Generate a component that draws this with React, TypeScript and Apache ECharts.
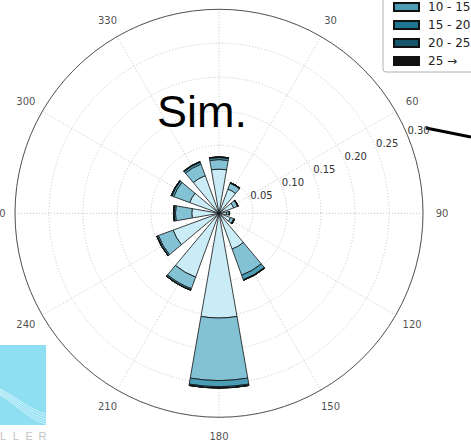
import React, { useEffect, useRef } from 'react';
import * as echarts from 'echarts';

// Wind directions (degrees, clockwise from north), one sector every 30°
const directions = ['0', '30', '60', '90', '120', '150', '180', '210', '240', '270', '300', '330'];

// Compass labels around the rim
const compassLabels = [0, 30, 60, 90, 120, 150, 180, 210, 240, 270, 300, 330];

// Speed bins shown in the legend
const speedBins = ['0 - 5', '5 - 10', '10 - 15', '15 - 20', '20 - 25', '25 →'];
const binColors = ['#c9ecf6', '#82c2d4', '#4a9db4', '#1d7791', '#17566a', '#111111'];

// Relative frequency per direction for each speed bin
const freq0to5 = [0.065, 0.038, 0.023, 0.011, 0.018, 0.056, 0.154, 0.100, 0.072, 0.040, 0.046, 0.059];
const freq5to10 = [0.014, 0.009, 0.006, 0.004, 0.005, 0.041, 0.092, 0.018, 0.023, 0.024, 0.025, 0.018];
const freq10to15 = [0.003, 0.001, 0.001, 0.0005, 0.001, 0.007, 0.009, 0.002, 0.002, 0.002, 0.003, 0.003];
const freq15to20 = [0.001, 0, 0, 0, 0.0005, 0.001, 0.002, 0.0005, 0.0005, 0.001, 0.001, 0.001];
const freq20to25 = [0, 0, 0, 0, 0, 0, 0, 0, 0, 0, 0, 0];
const freq25up = [0, 0, 0, 0, 0, 0, 0, 0, 0, 0, 0, 0];

const binData = [freq0to5, freq5to10, freq10to15, freq15to20, freq20to25, freq25up];

// Radial scale (frequency)
const radiusMax = 0.3;
const radiusStep = 0.05;

const CENTER: [number, number] = [219, 213.3];
const RADIUS = 204;

export default function App() {
  const ref = useRef<HTMLDivElement>(null);

  useEffect(() => {
    if (!ref.current) return;
    const chart = echarts.init(ref.current, null, { renderer: 'svg' });

    const dotted = { color: '#b5b5b5', type: [1, 2] as number[], width: 0.8 };
    const tickFont = { fontSize: 10, color: '#333', fontFamily: 'DejaVu Sans' };

    const fanLines = [0, 1, 2, 3, 4].map((i) => ({
      type: 'bezierCurve',
      shape: {
        x1: 0, y1: 389 + i * 1.5,
        cpx1: 18, cpy1: 398 + i * 2,
        cpx2: 30, cpy2: 410 + i * 2.5,
        x2: 46, y2: 414 + i * 2.5,
      },
      style: { stroke: '#ffffff', lineWidth: 0.6, fill: null },
    }));

    const brandLetters = ['L', 'L', 'E', 'R'].map((ch, i) => ({
      type: 'text',
      x: 0 + i * 12.8,
      y: 430,
      style: { text: ch, fontSize: 11, fontFamily: 'Liberation Sans', fill: '#c4c4c4' },
    }));

    chart.setOption({
      animation: false,
      backgroundColor: '#ffffff',
      title: {
        text: 'Sim.',
        left: 152,
        top: 84,
        textStyle: { fontSize: 45, fontWeight: 'normal', fontFamily: 'Liberation Sans', color: '#000' },
      },
      legend: {
        data: speedBins,
        orient: 'vertical',
        left: 383,
        top: -42,
        padding: [7, 10, 5, 10],
        itemGap: 6,
        itemWidth: 25,
        itemHeight: 8,
        icon: 'rect',
        borderColor: '#b0b0b0',
        borderWidth: 1,
        borderRadius: 3,
        backgroundColor: '#fff',
        textStyle: { fontSize: 12, lineHeight: 12, color: '#222', fontFamily: 'DejaVu Sans', padding: [0, 0, 0, 4] },
      },
      polar: [
        { center: CENTER, radius: RADIUS },
        { center: CENTER, radius: [12, RADIUS + 12] },
        { center: CENTER, radius: RADIUS },
        { center: CENTER, radius: RADIUS + 19 },
      ],
      angleAxis: [
        {
          polarIndex: 0,
          type: 'value',
          min: 0,
          max: 360,
          interval: 30,
          startAngle: 90,
          clockwise: true,
          axisLine: { lineStyle: { color: '#555', width: 1 } },
          axisTick: { show: false },
          axisLabel: { show: false },
          splitLine: { lineStyle: dotted },
        },
        { polarIndex: 1, type: 'value', min: 0, max: 360, startAngle: 22.5, show: false },
        {
          polarIndex: 2,
          type: 'category',
          data: directions,
          startAngle: 105,
          clockwise: true,
          show: false,
        },
        { polarIndex: 3, type: 'value', min: 0, max: 360, startAngle: 90, clockwise: true, show: false },
      ],
      radiusAxis: [
        {
          polarIndex: 0,
          type: 'value',
          min: 0,
          max: radiusMax,
          interval: radiusStep,
          axisLine: { show: false },
          axisTick: { show: false },
          axisLabel: { show: false },
          splitLine: { lineStyle: dotted },
        },
        {
          polarIndex: 1,
          type: 'value',
          min: 0,
          max: radiusMax,
          interval: radiusStep,
          axisLine: { show: false },
          axisTick: { show: false },
          splitLine: { show: false },
          axisLabel: {
            margin: 0,
            align: 'center',
            verticalAlign: 'middle',
            ...tickFont,
            formatter: (v: number) => (v === 0 ? '' : v.toFixed(2)),
          },
        },
        { polarIndex: 2, type: 'value', min: 0, max: radiusMax, show: false },
        { polarIndex: 3, type: 'value', min: 0, max: 1, show: false },
      ],
      series: [
        ...speedBins.map((name, i) => ({
          name,
          type: 'bar',
          coordinateSystem: 'polar',
          polarIndex: 2,
          stack: 'speed',
          barWidth: '66%',
          data: binData[i],
          itemStyle: { color: binColors[i], borderColor: '#111', borderWidth: 0.8 },
        })),
        {
          name: 'compass',
          type: 'scatter',
          coordinateSystem: 'polar',
          polarIndex: 3,
          symbolSize: 0,
          silent: true,
          data: compassLabels.map((a) => [1, a]),
          label: {
            show: true,
            position: 'inside',
            align: 'center',
            verticalAlign: 'middle',
            ...tickFont,
            color: '#222',
            formatter: (p: any) => String(p.value[1]),
          },
        },
      ],
      graphic: [
        { type: 'rect', shape: { x: 0, y: 345, width: 46, height: 80 }, style: { fill: '#8edff2' } },
        ...fanLines,
        ...brandLetters,
        {
          type: 'line',
          shape: { x1: 426, y1: 128, x2: 471, y2: 137 },
          style: { stroke: '#000', lineWidth: 3 },
        },
      ],
    });

    return () => chart.dispose();
  }, []);

  return <div ref={ref} style={{ position: 'absolute', left: 0, top: 0, width: 471, height: 441 }} />;
}
